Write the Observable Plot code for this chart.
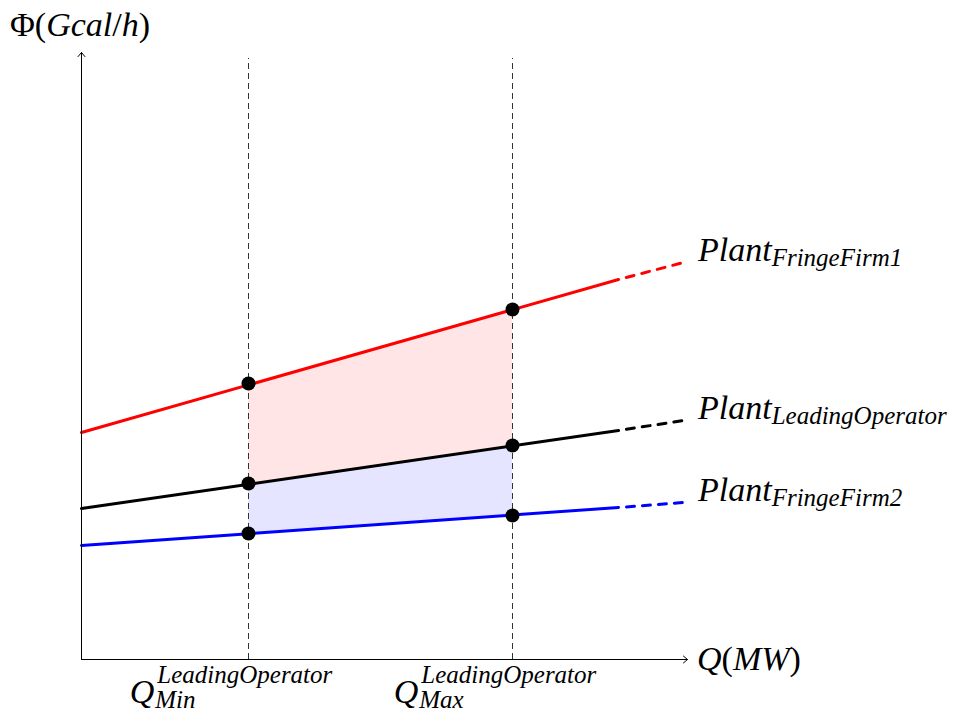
<!DOCTYPE html>
<html><head><meta charset="utf-8">
<script src="https://cdn.jsdelivr.net/npm/d3@7"></script>
<script src="https://cdn.jsdelivr.net/npm/@observablehq/plot@0.6"></script>
<style>body{margin:0;background:#fff} .lbl text{font-family:"Liberation Serif","DejaVu Serif",serif;}</style>
</head><body><div id="chart"></div>
<script>
// Q positions: line start, end of solid segment, end of dashed extension
const qEnds = [0, 537, 602];
// Φ values at those Q positions for each plant
const redVals = [227, 380, 397];
const blackVals = [151, 229, 239];
const blueVals = [114, 152, 157];
// Q_min / Q_max of leading operator
const qMarks = [167, 431];
const redPts = [276, 350];
const blackPts = [176, 214];
const bluePts = [126, 144];
const plantSubs = ["FringeFirm1", "LeadingOperator", "FringeFirm2"];
const tickSup = "LeadingOperator";
const tickSubs = ["Min", "Max"];
const colors = ["#ff0000", "#000000", "#0000ff"];
const xMax = 606, yMax = 607, ruleTop = 601;

const series = [redVals, blackVals, blueVals].map((v, i) => ({
  name: plantSubs[i], color: colors[i],
  solid: [{q: qEnds[0], v: v[0]}, {q: qEnds[1], v: v[1]}],
  dashed: [{q: qEnds[1], v: v[1]}, {q: qEnds[2], v: v[2]}],
  end: {q: qEnds[2], v: v[2]}
}));

const redArea = qMarks.map((q, i) => ({q, y1: blackPts[i], y2: redPts[i]}));
const blueArea = qMarks.map((q, i) => ({q, y1: bluePts[i], y2: blackPts[i]}));
const dots = qMarks.flatMap((q, i) => [
  {q, v: redPts[i]}, {q, v: blackPts[i]}, {q, v: bluePts[i]}
]);

const marks = [
  Plot.areaY(redArea, {x: "q", y1: "y1", y2: "y2", fill: "#ff0000", fillOpacity: 0.1}),
  Plot.areaY(blueArea, {x: "q", y1: "y1", y2: "y2", fill: "#0000ff", fillOpacity: 0.1}),
  Plot.ruleX(qMarks, {x: d => d, y1: 0, y2: ruleTop, stroke: "#333", strokeWidth: 1, strokeDasharray: "6,4"})
];
for (const s of series) {
  marks.push(Plot.line(s.solid, {x: "q", y: "v", stroke: s.color, strokeWidth: 3}));
  marks.push(Plot.line(s.dashed, {x: "q", y: "v", stroke: s.color, strokeWidth: 3, strokeDasharray: "8,8", strokeDashoffset: 8}));
}
marks.push(
  Plot.arrow([{x1: 0, y1: 0, x2: xMax, y2: 0}], {x1: "x1", y1: "y1", x2: "x2", y2: "y2", stroke: "#000", strokeWidth: 1, headLength: 8, headAngle: 80}),
  Plot.arrow([{x1: 0, y1: 0, x2: 0, y2: yMax}], {x1: "x1", y1: "y1", x2: "x2", y2: "y2", stroke: "#000", strokeWidth: 1, headLength: 8, headAngle: 80}),
  Plot.dot(dots, {x: "q", y: "v", r: 7, fill: "#000"})
);

const plot = Plot.plot({
  width: 954, height: 713,
  marginLeft: 81, marginRight: 267, marginTop: 52, marginBottom: 54,
  x: {domain: [0, xMax], axis: null},
  y: {domain: [0, yMax], axis: null},
  marks
});
document.getElementById("chart").appendChild(plot);

const xs = plot.scale("x"), ys = plot.scale("y");
const BIG = 34, SMALL = 25;
const svg = d3.select(plot);
const g = svg.append("g").attr("class", "lbl").attr("fill", "#000").attr("text-anchor", "start");

// Y axis label
{
  const t = g.append("text").attr("x", 10).attr("y", 36).attr("font-size", BIG);
  t.append("tspan").text("Φ(");
  t.append("tspan").attr("font-style", "italic").text("Gcal");
  t.append("tspan").text("/");
  t.append("tspan").attr("font-style", "italic").text("h");
  t.append("tspan").text(")");
}
// X axis label
{
  const t = g.append("text").attr("x", xs.apply(xMax) + 10).attr("y", ys.apply(0) + 11).attr("font-size", BIG);
  t.append("tspan").attr("font-style", "italic").text("Q");
  t.append("tspan").text("(");
  t.append("tspan").attr("font-style", "italic").text("MW");
  t.append("tspan").text(")");
}
// Plant labels
for (const s of series) {
  const t = g.append("text").attr("x", xs.apply(s.end.q) + 15).attr("y", ys.apply(s.end.v) - 1)
    .attr("font-size", BIG).attr("font-style", "italic");
  t.append("tspan").text("Plant");
  t.append("tspan").attr("font-size", SMALL).attr("dy", 5).text(s.name);
}
// Tick labels
qMarks.forEach((q, i) => {
  const cx = xs.apply(q) - 17;
  const base = ys.apply(0) + 44;
  const tq = g.append("text").attr("y", base).attr("font-size", BIG).attr("font-style", "italic").text("Q");
  const tsup = g.append("text").attr("y", base - 20).attr("font-size", SMALL).attr("font-style", "italic").text(tickSup);
  const tsub = g.append("text").attr("y", base + 5).attr("font-size", SMALL).attr("font-style", "italic").text(tickSubs[i]);
  const wq = tq.node().getComputedTextLength();
  const ws = Math.max(tsup.node().getComputedTextLength(), tsub.node().getComputedTextLength());
  const x0 = cx - (wq + 3 + ws) / 2;
  tq.attr("x", x0);
  tsup.attr("x", x0 + wq + 3);
  tsub.attr("x", x0 + wq + 1);
});
</script>
</body></html>
